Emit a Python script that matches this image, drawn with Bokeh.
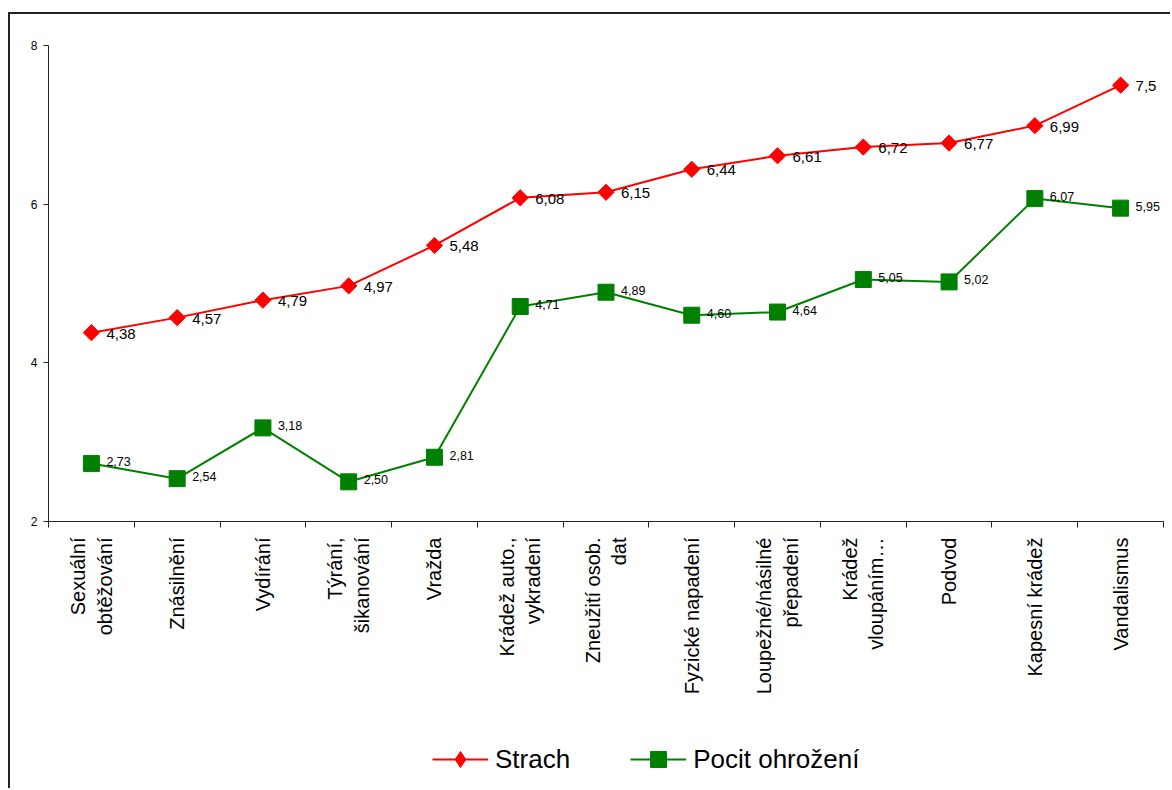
import math
from bokeh.plotting import figure
from bokeh.layouts import column
from bokeh.models import (ColumnDataSource, FixedTicker, Legend, LegendItem, LabelSet, Range1d)
from bokeh.core.properties import value
from bokeh.embed import file_html
from bokeh.resources import INLINE

categories = ["Sexuální\nobtěžování", "Znásilnění", "Vydírání", "Týrání,\nšikanování", "Vražda",
              "Krádež auto.,\nvykradení", "Zneužití osob.\ndat", "Fyzické napadení",
              "Loupežné/násilné\npřepadení", "Krádež\nvloupáním…", "Podvod", "Kapesní krádež",
              "Vandalismus"]
strach = [4.38, 4.57, 4.79, 4.97, 5.48, 6.08, 6.15, 6.44, 6.61, 6.72, 6.77, 6.99, 7.5]
pocit = [2.73, 2.54, 3.18, 2.50, 2.81, 4.71, 4.89, 4.60, 4.64, 5.05, 5.02, 6.07, 5.95]
y_ticks = [2, 4, 6, 8]
series_names = ["Strach", "Pocit ohrožení"]

xs = list(range(len(categories)))
src_s = ColumnDataSource(dict(x=xs, y=strach, lab=[("%g" % v).replace(".", ",") for v in strach]))
src_p = ColumnDataSource(dict(x=xs, y=pocit, lab=[("%.2f" % v).replace(".", ",") for v in pocit]))

FONT = "Liberation Sans"
RED = "#FF0000"
GREEN = "#008000"

p = figure(width=1160, height=700, output_backend="svg", toolbar_location=None,
           x_range=Range1d(-0.5, len(categories) - 0.5), y_range=Range1d(2, 8),
           min_border_left=38, min_border_right=7, min_border_top=31, min_border_bottom=193)
p.outline_line_color = None
p.xgrid.visible = False
p.ygrid.visible = False
p.background_fill_color = "white"
p.border_fill_color = "white"

# x axis
p.xaxis.ticker = FixedTicker(ticks=xs, minor_ticks=[i - 0.5 for i in range(len(categories) + 1)])
p.xaxis.major_label_overrides = {i: c for i, c in enumerate(categories)}
p.xaxis.major_tick_line_color = None
p.xaxis.minor_tick_line_color = "#222"
p.xaxis.minor_tick_out = 6
p.xaxis.minor_tick_in = 0
p.xaxis.major_label_orientation = math.pi / 2
p.xaxis.major_label_text_font = FONT
p.xaxis.major_label_text_font_size = "20px"
p.xaxis.major_label_text_color = "black"
p.xaxis.axis_line_color = "#222"
p.xaxis.major_label_standoff = 10

# y axis
p.yaxis.ticker = FixedTicker(ticks=y_ticks, minor_ticks=[])
p.yaxis.major_tick_out = 5
p.yaxis.major_tick_in = 0
p.yaxis.major_tick_line_color = "#222"
p.yaxis.axis_line_color = "#222"
p.yaxis.major_label_text_font = FONT
p.yaxis.major_label_text_font_size = "12px"
p.yaxis.major_label_text_color = "black"
p.yaxis.major_label_standoff = 6

p.line("x", "y", source=src_s, color=RED, line_width=2)
p.scatter("x", "y", source=src_s, marker="square", angle=math.pi / 4, size=11.5, color=RED)
p.line("x", "y", source=src_p, color=GREEN, line_width=2)
p.scatter("x", "y", source=src_p, marker="square", size=16, color=GREEN)

p.add_layout(LabelSet(x="x", y="y", text="lab", source=src_s, x_offset=15, y_offset=-1,
                      text_baseline="middle", text_font=value(FONT), text_font_size="15px",
                      text_color="black"))
p.add_layout(LabelSet(x="x", y="y", text="lab", source=src_p, x_offset=15, y_offset=2,
                      text_baseline="middle", text_font=value(FONT), text_font_size="12.5px",
                      text_color="black"))

# legend strip (its glyphs mirror the series styles; their data lie outside the visible range)
lf = figure(width=1160, height=74, output_backend="svg", toolbar_location=None,
            x_range=Range1d(0, 1), y_range=Range1d(0, 1), x_axis_location=None, y_axis_location=None,
            min_border=0)
lf.outline_line_color = None
lf.xgrid.visible = False
lf.ygrid.visible = False
off = dict(x=[-5, -4], y=[-5, -4])
dl1 = lf.line(x=off["x"], y=off["y"], color=RED, line_width=2)
dm1 = lf.scatter(x=off["x"], y=off["y"], marker="diamond", size=16, color=RED)
dl2 = lf.line(x=off["x"], y=off["y"], color=GREEN, line_width=2)
dm2 = lf.scatter(x=off["x"], y=off["y"], marker="square", size=16, color=GREEN)
legend = Legend(items=[LegendItem(label=series_names[0], renderers=[dl1, dm1]),
                       LegendItem(label=series_names[1], renderers=[dl2, dm2])],
                orientation="horizontal", location=(384, 9),
                label_text_font=FONT, label_text_font_size="26px", label_text_color="black",
                glyph_width=56, glyph_height=40, label_standoff=7, spacing=60,
                border_line_color=None, background_fill_alpha=0, padding=4, margin=0)
lf.add_layout(legend, "center")

layout = column(p, lf, spacing=0,
                styles={"margin-left": "8px", "margin-top": "12px",
                        "border-left": "2px solid #222", "border-top": "2px solid #222"})

open("out.html", "w").write(file_html(layout, INLINE))
